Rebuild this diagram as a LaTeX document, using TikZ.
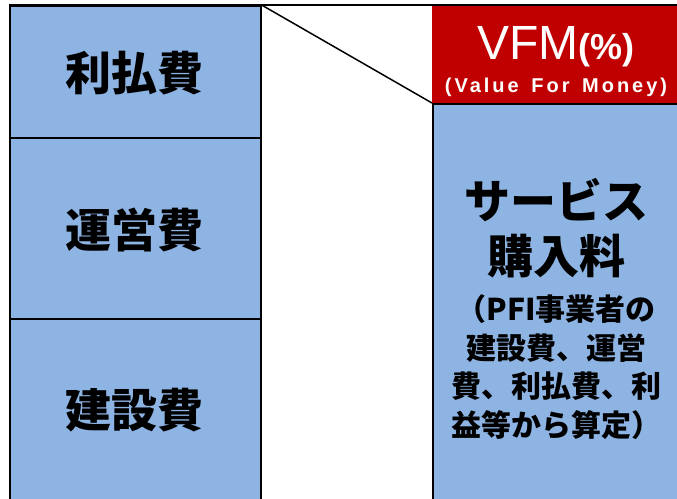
\documentclass[tikz,border=0pt]{standalone}
\usepackage{fontspec}
\setmainfont{Noto Sans CJK JP}
\newfontfamily\arialfont{Liberation Sans}
\newfontfamily\arialspaced{Liberation Sans}[LetterSpace=15]
\definecolor{boxblue}{HTML}{8EB4E3}
\definecolor{vfmred}{HTML}{C00000}
\tikzset{
  costbox/.style={draw=black, line width=1.6pt, fill=boxblue, inner sep=0pt, anchor=north west},
  bigtext/.style={font=\bfseries\fontsize{46}{55}\selectfont, align=center, inner sep=0pt},
  smalltext/.style={font=\bfseries\fontsize{30}{38.5}\selectfont, align=center, inner sep=0pt},
}
\begin{document}
\begin{tikzpicture}[x=1pt,y=-1pt]
\useasboundingbox (0,0) rectangle (677,498);
\clip (0,0) rectangle (677,498);
% left column
\node[costbox, minimum width=251pt, minimum height=132pt] (rib) at (9,5) {};
\node[costbox, minimum width=251pt, minimum height=181pt] (unb) at (9,137) {};
\node[costbox, minimum width=251pt, minimum height=190pt] (keb) at (9,318) {};
\node[bigtext] (rit) at (134.5,73) {利払費};
\node[bigtext] (unt) at (134.5,230) {運営費};
\node[bigtext] (ket) at (134.5,410) {建設費};
% right column
\node[costbox, minimum width=260pt, minimum height=410pt] (svb) at (432,103) {};
\node[fill=vfmred, inner sep=0pt, anchor=north west, minimum width=260pt, minimum height=98pt] (vfm) at (432,5) {};
\node[text=white, inner sep=0pt] (vfmt) at (556,47) {\arialfont\fontsize{48}{48}\selectfont VFM\bfseries\fontsize{36}{36}\selectfont(\%)};
\node[text=white, inner sep=0pt] (vfms) at (556,87) {\arialspaced\bfseries\fontsize{20}{20}\selectfont(Value\hspace{4pt} For\hspace{4pt} Money)};
\node[bigtext] (svt) at (556,228.5) {サービス\\購入料};
\node[smalltext] (svs) at (556,367) {（PFI事業者の\\建設費、運営\\費、利払費、利\\益等から算定）};
% connectors
\draw[line width=1.5pt] (rib.north east) -- (svb.north west);
\draw[line width=2.4pt] (rib.north west) -- (677,5);
\end{tikzpicture}
\end{document}
